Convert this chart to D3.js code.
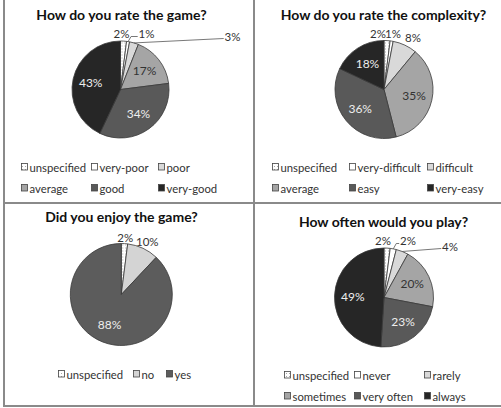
<!DOCTYPE html>
<html>
<head>
<meta charset="utf-8">
<script src="https://cdn.jsdelivr.net/npm/d3@7"></script>
<style>
  html, body { margin: 0; padding: 0; background: #fff; }
  svg { display: block; font-family: Lato, "Open Sans", sans-serif; }
</style>
</head>
<body>
<div id="chart"></div>
<script>
// chart data
const titles = [
  'How do you rate the game?',
  'How do you rate the complexity?',
  'Did you enjoy the game?',
  'How often would you play?'
];

const gameCategories = ['unspecified', 'very-poor', 'poor', 'average', 'good', 'very-good'];
const gameValues = [2, 1, 3, 17, 34, 43];

const complexityCategories = ['unspecified', 'very-difficult', 'difficult', 'average', 'easy', 'very-easy'];
const complexityValues = [2, 1, 8, 35, 36, 18];

const enjoyCategories = ['unspecified', 'no', 'yes'];
const enjoyValues = [2, 10, 88];

const playCategories = ['unspecified', 'never', 'rarely', 'sometimes', 'very often', 'always'];
const playValues = [2, 2, 4, 20, 23, 49];

// fill per category (greyscale like the original)
const shade = {
  'unspecified': 'url(#dots)',
  'very-poor': '#ffffff', 'very-difficult': '#ffffff', 'never': '#ffffff',
  'poor': '#d9d9d9', 'difficult': '#d9d9d9', 'rarely': '#d9d9d9', 'no': '#d4d4d4',
  'average': '#a5a5a5', 'sometimes': '#a5a5a5',
  'good': '#595959', 'easy': '#595959', 'very often': '#595959', 'yes': '#5c5c5c',
  'very-good': '#262626', 'very-easy': '#262626', 'always': '#262626'
};
const darkText = new Set(['#595959', '#5c5c5c', '#262626']);

// layout of the four panels
const panels = [
  { cats: gameCategories, vals: gameValues, cx: 120.5, cy: 89.5, r: 48.5, ty: 20,
    legend: { rows: [168, 189], cols: [21, 91, 158] },
    // outside labels: index -> [label x, label y] offset from centre, leader or not
    outside: { 0: [1, -56, false], 1: [26, -56, true], 2: [112, -53, true] } },
  { cats: complexityCategories, vals: complexityValues, cx: 384, cy: 89.5, r: 49, ty: 20,
    legend: { rows: [168, 189], cols: [272, 349, 427] },
    outside: { 0: [-6, -56, false], 1: [9, -56, false], 2: [29, -52, false] } },
  { cats: enjoyCategories, vals: enjoyValues, cx: 121.3, cy: 294.5, r: 51, ty: 222,
    legend: { rows: [375], cols: [58, 133, 166] },
    outside: { 0: [4, -57, false], 1: [26, -53, false] } },
  { cats: playCategories, vals: playValues, cx: 384, cy: 297.5, r: 49.5, ty: 227,
    legend: { rows: [376, 397], cols: [284, 354, 424] },
    outside: { 0: [-1, -57, false], 1: [24, -57, true], 2: [66, -51, true] } }
];

const width = 501;
const height = 408;

const svg = d3.select('#chart')
  .append('svg')
  .attr('width', width)
  .attr('height', height);

// dotted pattern for "unspecified"
const pat = svg.append('defs').append('pattern')
  .attr('id', 'dots')
  .attr('width', 3).attr('height', 3)
  .attr('patternUnits', 'userSpaceOnUse');
pat.append('rect').attr('width', 3).attr('height', 3).attr('fill', '#fff');
pat.append('rect').attr('x', 1).attr('y', 1).attr('width', 0.8).attr('height', 0.8).attr('fill', '#777');

// panel frame
const frame = svg.append('g')
  .attr('stroke', '#8a8a8a')
  .attr('stroke-width', 2)
  .attr('fill', 'none');
frame.append('line').attr('x1', 4).attr('y1', 0).attr('x2', 4).attr('y2', 406);
frame.append('line').attr('x1', 254).attr('y1', 0).attr('x2', 254).attr('y2', 406);
frame.append('line').attr('x1', 4).attr('y1', 203).attr('x2', 501).attr('y2', 203);
frame.append('line').attr('x1', 3).attr('y1', 406).attr('x2', 501).attr('y2', 406);

const pie = d3.pie().sort(null).value(d => d.v);

panels.forEach((p, i) => {
  const data = p.cats.map((c, k) => ({ c, v: p.vals[k] }));
  const arcs = pie(data);
  const arc = d3.arc().innerRadius(0).outerRadius(p.r);
  const g = svg.append('g').attr('transform', `translate(${p.cx},${p.cy})`);

  // title
  svg.append('text')
    .attr('x', i % 2 === 0 ? 121.5 : 383.5)
    .attr('y', p.ty)
    .attr('text-anchor', 'middle')
    .attr('font-size', 14)
    .attr('font-weight', 'bold')
    .attr('fill', '#111')
    .text(titles[i]);

  // slices
  g.selectAll('path')
    .data(arcs)
    .enter()
    .append('path')
    .attr('d', arc)
    .attr('fill', d => shade[d.data.c])
    .attr('stroke', '#3a3a3a')
    .attr('stroke-width', 0.8);

  // labels
  arcs.forEach((d, k) => {
    const mid = (d.startAngle + d.endAngle) / 2;
    const label = d.data.v + '%';
    const o = p.outside[k];
    if (o) {
      const lx = o[0];
      const ly = o[1];
      if (o[2]) {
        const ex = Math.sin(mid) * p.r;
        const ey = -Math.cos(mid) * p.r;
        const tx = lx - (label.length * 3.4) - 2;
        const pts = k === 1
          ? [[ex, ey], [ex + 3, ly + 3], [tx, ly + 3]]
          : [[ex, ey], [tx, ly + 2]];
        g.append('polyline')
          .attr('points', pts.map(q => q.join(',')).join(' '))
          .attr('fill', 'none')
          .attr('stroke', '#555')
          .attr('stroke-width', 0.8);
      }
      g.append('text')
        .attr('x', lx).attr('y', ly)
        .attr('dy', '0.35em')
        .attr('text-anchor', 'middle')
        .attr('font-size', 11.5)
        .attr('fill', '#333')
        .text(label);
    } else {
      const rr = p.r * 0.63;
      g.append('text')
        .attr('x', Math.sin(mid) * rr)
        .attr('y', -Math.cos(mid) * rr)
        .attr('dy', '0.35em')
        .attr('text-anchor', 'middle')
        .attr('font-size', 12)
        .attr('fill', darkText.has(shade[d.data.c]) ? '#eeeeee' : '#333')
        .text(label);
    }
  });

  // legend
  const ncol = p.legend.cols.length;
  p.cats.forEach((c, k) => {
    const lx = p.legend.cols[k % ncol];
    const ly = p.legend.rows[Math.floor(k / ncol)];
    svg.append('rect')
      .attr('x', lx + 0.5).attr('y', ly - 4.5)
      .attr('width', 6).attr('height', 6.5)
      .attr('fill', shade[c])
      .attr('stroke', '#444')
      .attr('stroke-width', 0.8);
    svg.append('text')
      .attr('x', lx + 8.5).attr('y', ly)
      .attr('dy', '0.33em')
      .attr('font-size', 11.3)
      .attr('fill', '#333')
      .text(c);
  });
});
</script>
</body>
</html>
